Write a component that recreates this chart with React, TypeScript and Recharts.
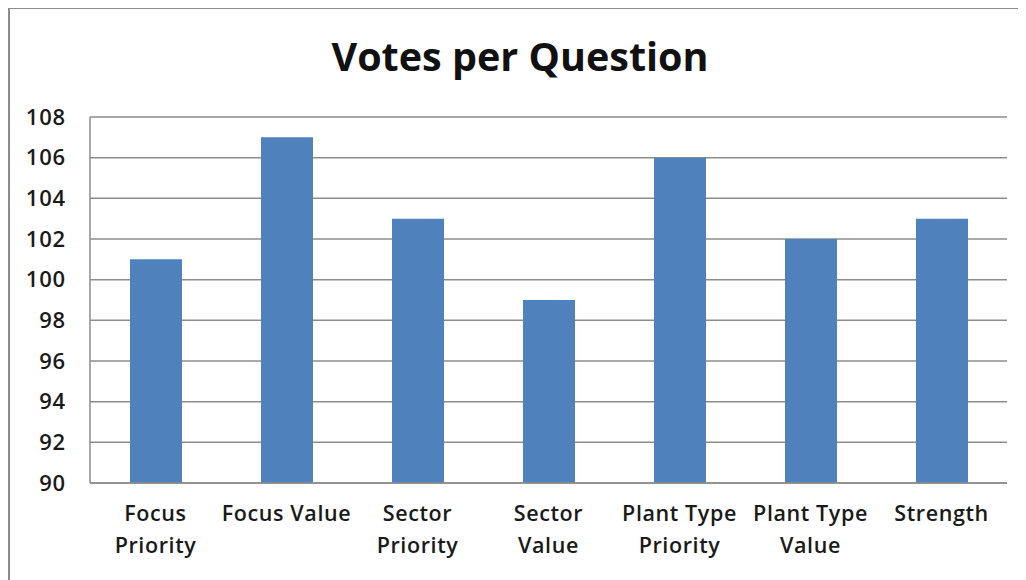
import React from "react";
import { BarChart, Bar, XAxis, YAxis, CartesianGrid } from "recharts";

const categories = [
  "Focus Priority",
  "Focus Value",
  "Sector Priority",
  "Sector Value",
  "Plant Type Priority",
  "Plant Type Value",
  "Strength",
];
const categoryLines: string[][] = [
  ["Focus", "Priority"],
  ["Focus Value"],
  ["Sector", "Priority"],
  ["Sector", "Value"],
  ["Plant Type", "Priority"],
  ["Plant Type", "Value"],
  ["Strength"],
];
const votes = [101, 107, 103, 99, 106, 102, 103];
const yTicks = [90, 92, 94, 96, 98, 100, 102, 104, 106, 108];

const data = categories.map((c, i) => ({ name: c, votes: votes[i], idx: i }));

const FONT = "'Open Sans', Lato, sans-serif";

const XTick = (props: any) => {
  const { x, y, index } = props;
  const lines = categoryLines[index] || [String(props.payload.value)];
  return (
    <g>
      {lines.map((l, k) => (
        <text
          key={k}
          x={x}
          y={y + 30 + k * 32}
          textAnchor="middle"
          fontFamily={FONT}
          fontSize={21.5}
          fontWeight={600}
          letterSpacing={0.6}
          fill="#1a1a1a"
        >
          {l}
        </text>
      ))}
    </g>
  );
};

export default function App() {
  return (
    <div style={{ position: "relative", width: 1018, height: 572 }}>
      <div
        style={{
          position: "absolute",
          left: 0,
          top: -1,
          width: 1030,
          height: 600,
          borderLeft: "2px solid #8c8c8c",
          borderTop: "2px solid #8c8c8c",
          boxSizing: "border-box",
        }}
      />
      <div
        style={{
          position: "absolute",
          left: 0,
          width: 1024,
          top: 23,
          textAlign: "center",
          fontFamily: FONT,
          fontWeight: 700,
          fontSize: 39.5,
          color: "#111",
          lineHeight: "50px",
        }}
      >
        Votes per Question
      </div>
      <BarChart
        width={1018}
        height={572}
        data={data}
        margin={{ top: 109, right: 19, bottom: 7, left: 0 }}
        barSize={52}
      >
        <CartesianGrid
          vertical={false}
          stroke="#8c8c8c"
          strokeWidth={1.5}
        />
        <XAxis
          dataKey="name"
          interval={0}
          height={90}
          tickLine={false}
          axisLine={{ stroke: "#8c8c8c", strokeWidth: 1.5 }}
          tick={<XTick />}
        />
        <YAxis
          width={82}
          domain={[90, 108]}
          ticks={yTicks}
          allowDataOverflow
          tickLine={false}
          axisLine={{ stroke: "#8c8c8c", strokeWidth: 1.5 }}
          tick={{ fontFamily: FONT, fontSize: 22, fontWeight: 600, fill: "#1a1a1a", dx: -16, letterSpacing: 0.8 }}
        />
        <Bar dataKey="votes" fill="#4F81BD" isAnimationActive={false} />
      </BarChart>
    </div>
  );
}
